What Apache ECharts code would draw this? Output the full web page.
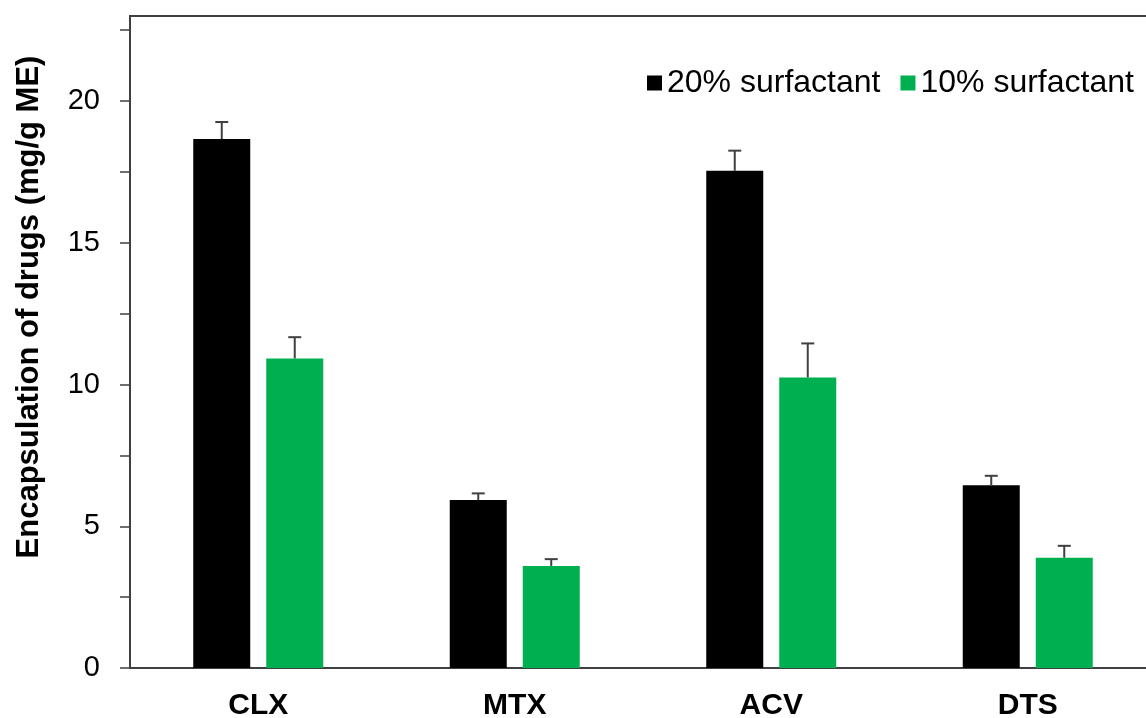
<!DOCTYPE html>
<html>
<head>
<meta charset="utf-8">
<script src="https://cdn.jsdelivr.net/npm/echarts@6/dist/echarts.min.js"></script>
<style>html,body{margin:0;padding:0;background:#fff;}#c{width:1146px;height:718px;}</style>
</head>
<body>
<div id="c"></div>
<script>
const categories = ['CLX', 'MTX', 'ACV', 'DTS'];
const seriesNames = ['20% surfactant', '10% surfactant'];
const surf20 = [18.66, 5.93, 17.54, 6.45];
const surf20Err = [0.60, 0.23, 0.71, 0.33];
const surf10 = [10.92, 3.60, 10.25, 3.89];
const surf10Err = [0.75, 0.24, 1.20, 0.42];
const yTickValues = [0, 2.5, 5, 7.5, 10, 12.5, 15, 17.5, 20, 22.5];
const yLabelValues = [0, 5, 10, 15, 20];
const yMax = 23;
const yTitle = 'Encapsulation of drugs (mg/g ME)';

const FONT = 'Liberation Sans, Arial, sans-serif';
const AXIS_COLOR = '#404040';
const BAR_W = 57;
const BAR_GAP = 16;
const half = (BAR_W + BAR_GAP) / 2;

function errSeries(vals, errs, offset) {
  return {
    type: 'custom',
    z: 5,
    silent: true,
    data: vals.map((v, i) => [i, v, errs[i]]),
    renderItem: function (params, api) {
      const i = api.value(0), v = api.value(1), e = api.value(2);
      const b = api.coord([i, v]);
      const t = api.coord([i, v + e]);
      const cx = b[0] + offset;
      const style = { stroke: AXIS_COLOR, lineWidth: 2 };
      return {
        type: 'group',
        children: [
          { type: 'line', shape: { x1: cx, y1: b[1], x2: cx, y2: t[1] }, style: style },
          { type: 'line', shape: { x1: cx - 6.5, y1: t[1], x2: cx + 6.5, y2: t[1] }, style: style }
        ]
      };
    }
  };
}

const chart = echarts.init(document.getElementById('c'), null, { renderer: 'canvas' });
chart.setOption({
  animation: false,
  backgroundColor: '#fff',
  textStyle: { fontFamily: FONT },
  grid: { left: 130, top: 16, width: 1026, height: 652, outerBoundsMode: 'none', containLabel: false, show: true, borderColor: AXIS_COLOR, borderWidth: 2, backgroundColor: 'transparent' },
  legend: {
    data: seriesNames,
    left: 642,
    top: 62,
    icon: 'rect',
    itemWidth: 15,
    itemHeight: 15,
    itemGap: 20,
    textStyle: { fontFamily: FONT, fontSize: 32, color: '#000' }
  },
  graphic: [{
    type: 'text',
    x: 29,
    y: 307,
    rotation: Math.PI / 2,
    style: { text: yTitle, font: 'bold 31px ' + FONT, fill: '#000', textAlign: 'center', textVerticalAlign: 'middle' }
  }],
  xAxis: {
    type: 'category',
    data: categories,
    axisLine: { lineStyle: { color: AXIS_COLOR, width: 2 } },
    axisTick: { length: 10, lineStyle: { color: AXIS_COLOR, width: 1.5 } },
    axisLabel: { color: '#000', fontSize: 30, fontWeight: 'bold', margin: 23, fontFamily: FONT },
    splitLine: { show: false }
  },
  yAxis: {
    type: 'value',
    min: 0,
    max: yMax,
    interval: 2.5,
    axisLine: { show: true, lineStyle: { color: AXIS_COLOR, width: 2 } },
    axisTick: { show: true, length: 10, customValues: yTickValues, lineStyle: { color: AXIS_COLOR, width: 1.5 } },
    axisLabel: { color: '#000', fontSize: 29, margin: 30, customValues: yLabelValues, fontFamily: FONT },
    splitLine: { show: false }
  },
  series: [
    { name: seriesNames[0], type: 'bar', data: surf20, barWidth: BAR_W, barGap: (BAR_GAP / BAR_W * 100) + '%', itemStyle: { color: '#000000' } },
    { name: seriesNames[1], type: 'bar', data: surf10, barWidth: BAR_W, itemStyle: { color: '#00B050' } },
    errSeries(surf20, surf20Err, -half),
    errSeries(surf10, surf10Err, half)
  ]
});
</script>
</body>
</html>
